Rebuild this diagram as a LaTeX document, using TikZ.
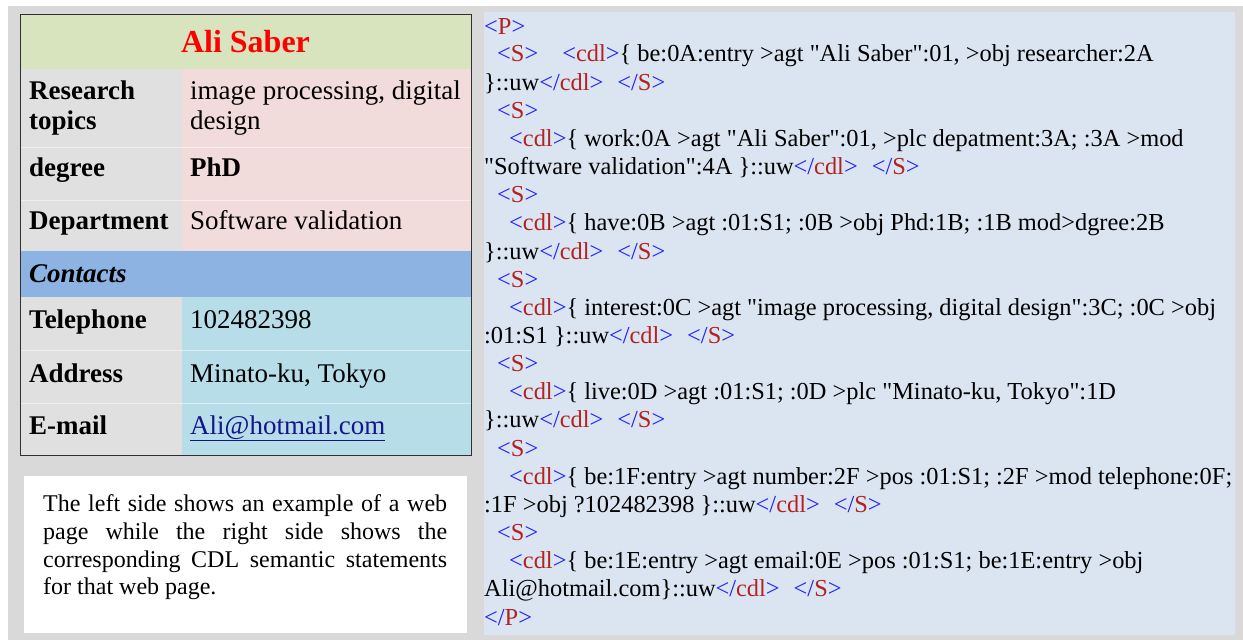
\documentclass[tikz,border=0pt]{standalone}
\usepackage{fontspec}
\setmainfont{Liberation Serif}[Ligatures=TeXOff]
\definecolor{pagegray}{HTML}{D9D9D9}
\definecolor{codepanel}{HTML}{DBE5F1}
\definecolor{headgreen}{HTML}{D7E4BD}
\definecolor{keygray}{HTML}{E0E0E0}
\definecolor{valpink}{HTML}{F2DCDB}
\definecolor{contactblue}{HTML}{8DB3E2}
\definecolor{valblue}{HTML}{B7DDE8}
\definecolor{tagblue}{RGB}{30,30,255}
\definecolor{tagred}{RGB}{178,34,34}
\definecolor{linkblue}{RGB}{20,20,140}
\definecolor{tableedge}{HTML}{303030}
% markup tags: blue brackets, red tag names
\newcommand\opentag[1]{\textcolor{tagblue}{<}\textcolor{tagred}{#1}\textcolor{tagblue}{>}}
\newcommand\closetag[1]{\textcolor{tagblue}{</}\textcolor{tagred}{#1}\textcolor{tagblue}{>}}
\newcommand\tagtail{\closetag{cdl}\hspace*{14bp}\closetag{S}}
\tikzset{
  codeline/.style={anchor=base west, inner sep=0pt, font=\fontsize{24.4bp}{28bp}\selectfont},
  keytext/.style={anchor=base west, inner sep=0pt, font=\fontsize{27bp}{30bp}\selectfont\bfseries},
  valtext/.style={anchor=base west, inner sep=0pt, font=\fontsize{27bp}{30bp}\selectfont},
  notetext/.style={anchor=base west, inner sep=0pt, font=\fontsize{24bp}{28bp}\selectfont},
}
\begin{document}
\begin{tikzpicture}[x=1bp,y=-1bp]
\useasboundingbox (0,0) rectangle (1243,640);
% page background
\fill[white] (0,0) rectangle (1243,640);
\fill[pagegray] (8,6) rectangle (1243,640);

% ---------- profile table ----------
\fill[headgreen] (20,15) rectangle (471,69);
\fill[keygray] (20,69) rectangle (182,251);
\fill[valpink] (182,69) rectangle (471,251);
\fill[contactblue] (20,251) rectangle (471,297);
\fill[keygray] (20,297) rectangle (182,455);
\fill[valblue] (182,297) rectangle (471,455);
% faint row separators
\foreach \yy in {147,200,350,403}
  \draw[white, opacity=0.5, line width=0.8bp] (20,\yy) -- (471,\yy);
\draw[tableedge, line width=1bp] (20,15) rectangle (471,455);

\node[anchor=base, inner sep=0pt, font=\fontsize{32bp}{34bp}\selectfont\bfseries, text=red]
  (name) at (245.5,53) {Ali Saber};

\node[keytext] (k1a) at (29,100) {Research};
\node[keytext] (k1b) at (29,130) {topics};
\node[valtext] (v1a) at (190,100) {image processing, digital};
\node[valtext] (v1b) at (190,130) {design};
\node[keytext] (k2) at (29,177) {degree};
\node[valtext, font=\fontsize{27bp}{30bp}\selectfont\bfseries] (v2) at (190,177) {PhD};
\node[keytext] (k3) at (29,230) {Department};
\node[valtext] (v3) at (190,230) {Software validation};
\node[keytext, font=\fontsize{27bp}{30bp}\selectfont\bfseries\itshape] (sect) at (29,283) {Contacts};
\node[keytext] (k4) at (29,329) {Telephone};
\node[valtext] (v4) at (190,329) {102482398};
\node[keytext] (k5) at (29,382) {Address};
\node[valtext] (v5) at (190,382) {Minato-ku, Tokyo};
\node[keytext] (k6) at (29,434) {E-mail};
\node[valtext, text=linkblue] (v6) at (190,434) {\underline{Ali@hotmail.com}};

% ---------- caption box ----------
\fill[white] (24,476) rectangle (467,633);
\node[notetext] (n1) at (43,511) {\makebox[404bp][s]{The left side shows an example of a web}};
\node[notetext] (n2) at (43,539) {\makebox[404bp][s]{page while the right side shows the}};
\node[notetext] (n3) at (43,567) {\makebox[404bp][s]{corresponding CDL semantic statements}};
\node[notetext] (n4) at (43,594.5) {for that web page.};

% ---------- CDL listing ----------
\fill[codepanel] (484,12) rectangle (1235,635);
\node[codeline] (l1) at (484,35) {\opentag{P}};
\node[codeline] (l2) at (497,62) {\opentag{S}\hspace*{24bp}\opentag{cdl}\{ be:0A:entry >agt "Ali Saber":01, >obj researcher:2A};
\node[codeline] (l3) at (484,90.15) {\}::uw\tagtail};
\node[codeline] (l4) at (497,118.3) {\opentag{S}};
\node[codeline] (l5) at (509,146.45) {\opentag{cdl}\{ work:0A >agt "Ali Saber":01, >plc depatment:3A; :3A >mod};
\node[codeline] (l6) at (484,174.6) {"Software validation":4A \}::uw\tagtail};
\node[codeline] (l7) at (497,202.75) {\opentag{S}};
\node[codeline] (l8) at (509,230.9) {\opentag{cdl}\{ have:0B >agt :01:S1; :0B >obj Phd:1B; :1B mod>dgree:2B};
\node[codeline] (l9) at (484,259.05) {\}::uw\tagtail};
\node[codeline] (l10) at (497,287.2) {\opentag{S}};
\node[codeline] (l11) at (509,315.35) {\opentag{cdl}\{ interest:0C >agt "image processing, digital design":3C; :0C >obj};
\node[codeline] (l12) at (484,343.5) {:01:S1 \}::uw\tagtail};
\node[codeline] (l13) at (497,371.65) {\opentag{S}};
\node[codeline] (l14) at (509,399.8) {\opentag{cdl}\{ live:0D >agt :01:S1; :0D >plc "Minato-ku, Tokyo":1D};
\node[codeline] (l15) at (484,427.95) {\}::uw\tagtail};
\node[codeline] (l16) at (497,456.1) {\opentag{S}};
\node[codeline] (l17) at (509,484.25) {\opentag{cdl}\{ be:1F:entry >agt number:2F >pos :01:S1; :2F >mod telephone:0F;};
\node[codeline] (l18) at (484,512.4) {:1F >obj ?102482398 \}::uw\tagtail};
\node[codeline] (l19) at (497,540.55) {\opentag{S}};
\node[codeline] (l20) at (509,568.7) {\opentag{cdl}\{ be:1E:entry >agt email:0E >pos :01:S1; be:1E:entry >obj};
\node[codeline] (l21) at (484,596.85) {Ali@hotmail.com\}::uw\tagtail};
\node[codeline] (l22) at (484,625) {\closetag{P}};
\end{tikzpicture}
\end{document}
